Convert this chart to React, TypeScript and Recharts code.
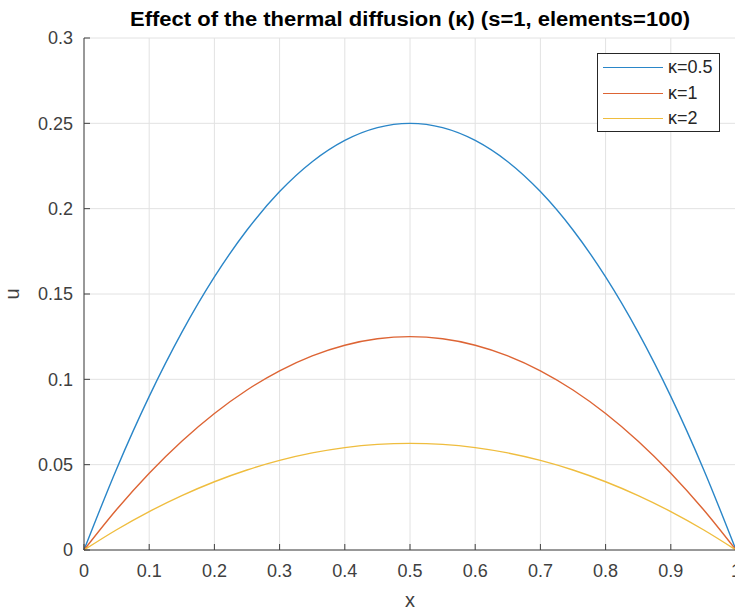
import React from 'react';
import { LineChart, Line, XAxis, YAxis, CartesianGrid, Label } from 'recharts';

const xs = [0, 0.05, 0.1, 0.15, 0.2, 0.25, 0.3, 0.35, 0.4, 0.45, 0.5, 0.55, 0.6, 0.65, 0.7, 0.75, 0.8, 0.85, 0.9, 0.95, 1];
const kappa05 = [0, 0.0475, 0.09, 0.1275, 0.16, 0.1875, 0.21, 0.2275, 0.24, 0.2475, 0.25, 0.2475, 0.24, 0.2275, 0.21, 0.1875, 0.16, 0.1275, 0.09, 0.0475, 0];
const kappa1 = [0, 0.02375, 0.045, 0.06375, 0.08, 0.09375, 0.105, 0.11375, 0.12, 0.12375, 0.125, 0.12375, 0.12, 0.11375, 0.105, 0.09375, 0.08, 0.06375, 0.045, 0.02375, 0];
const kappa2 = [0, 0.011875, 0.0225, 0.031875, 0.04, 0.046875, 0.0525, 0.056875, 0.06, 0.061875, 0.0625, 0.061875, 0.06, 0.056875, 0.0525, 0.046875, 0.04, 0.031875, 0.0225, 0.011875, 0];
const xTicks = [0, 0.1, 0.2, 0.3, 0.4, 0.5, 0.6, 0.7, 0.8, 0.9, 1];
const yTicks = [0, 0.05, 0.1, 0.15, 0.2, 0.25, 0.3];
const seriesNames = ['\u03BA=0.5', '\u03BA=1', '\u03BA=2'];
const colors = ['#2a86c8', '#dd6434', '#efbd3e'];

const data = xs.map((x, i) => ({ x, a: kappa05[i], b: kappa1[i], c: kappa2[i] }));

const FONT = '"Liberation Sans", Arial, sans-serif';
const TXT = '#404040';

const LegendBox = () => (
  <div style={{ position: 'absolute', left: 597, top: 53, width: 123, height: 79, border: '1px solid #262626', background: '#fff', boxSizing: 'border-box', fontFamily: FONT, fontSize: 18, color: '#262626' }}>
    {seriesNames.map((n, i) => (
      <div key={n} style={{ display: 'flex', alignItems: 'center', height: 25.5, marginTop: i === 0 ? 1 : 0 }}>
        <div style={{ width: 60, height: 0, borderTop: `1.5px solid ${colors[i]}`, marginLeft: 5, marginRight: 5 }} />
        <span>{n}</span>
      </div>
    ))}
  </div>
);

export default function App() {
  return (
    <div style={{ position: 'fixed', left: 0, top: 0, width: 735, height: 612, overflow: 'hidden', background: '#fff' }}>
      <div style={{ position: 'absolute', left: 0, top: 0 }}>
        <LineChart width={745} height={612} data={data} margin={{ top: 38, right: 9, bottom: 0, left: 0 }} style={{ fontFamily: FONT }}>
          <CartesianGrid stroke="#e2e2e2" />
          <XAxis
            dataKey="x"
            type="number"
            domain={[0, 1]}
            ticks={xTicks}
            tickLine={{ stroke: '#404040' }}
            tickSize={-6}
            axisLine={{ stroke: '#404040' }}
            tick={{ fill: TXT, fontSize: 18 }}
            tickMargin={20}
            height={62}
            interval={0}
          >
            <Label value="x" position="insideBottom" offset={5} style={{ fill: TXT, fontSize: 20, fontFamily: FONT }} />
          </XAxis>
          <YAxis
            type="number"
            domain={[0, 0.3]}
            ticks={yTicks}
            tickLine={{ stroke: '#404040' }}
            tickSize={-6}
            axisLine={{ stroke: '#404040' }}
            tick={{ fill: TXT, fontSize: 18 }}
            tickMargin={17}
            width={84}
            interval={0}
          >
            <Label value="u" angle={-90} position="insideLeft" offset={12} style={{ fill: TXT, fontSize: 20, fontFamily: FONT, textAnchor: 'middle' }} />
          </YAxis>
          <Line type="monotone" dataKey="a" name={seriesNames[0]} stroke={colors[0]} strokeWidth={1.4} dot={false} isAnimationActive={false} />
          <Line type="monotone" dataKey="b" name={seriesNames[1]} stroke={colors[1]} strokeWidth={1.4} dot={false} isAnimationActive={false} />
          <Line type="monotone" dataKey="c" name={seriesNames[2]} stroke={colors[2]} strokeWidth={1.4} dot={false} isAnimationActive={false} />
        </LineChart>
      </div>
      <svg style={{ position: 'absolute', left: 0, top: 0 }} width={735} height={36}>
        <text x={410} y={26} textAnchor="middle" fontFamily={FONT} fontWeight="bold" fontSize={20} fill="#000" textLength={560} lengthAdjust="spacingAndGlyphs">
          Effect of the thermal diffusion (κ) (s=1, elements=100)
        </text>
      </svg>
      <LegendBox />
    </div>
  );
}
